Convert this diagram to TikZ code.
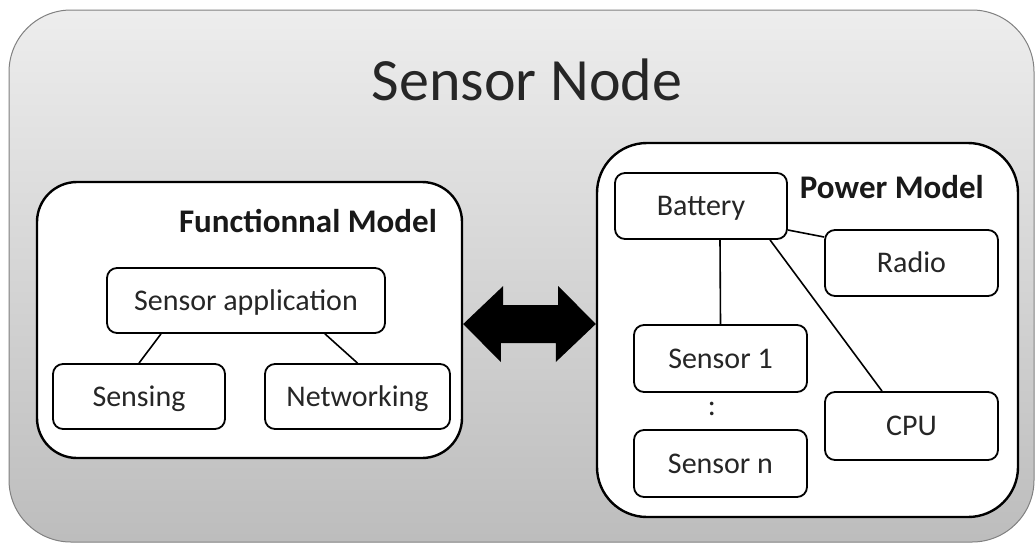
\documentclass[tikz,border=0pt]{standalone}
\usepackage{fontspec}
\setmainfont{Carlito}
\usetikzlibrary{calc}
\definecolor{txt}{HTML}{262626}
\begin{document}
\begin{tikzpicture}[x=1pt,y=-1pt,
  box/.style={draw=black, line width=1.8pt, fill=white, rounded corners=10pt,
    inner sep=0pt, text height=19.3pt, text depth=0pt, text=txt,
    font=\fontsize{30}{36}\selectfont},
  bigbox/.style={draw=black, line width=2.4pt, fill=white, inner sep=0pt},
  link/.style={draw=black, line width=1.6pt},
  heading/.style={inner sep=0pt, text=black!90, font=\bfseries\fontsize{33}{40}\selectfont}
]
\useasboundingbox (0,0) rectangle (1035,544);
% outer container
\draw[draw=black!50, line width=1pt, top color=black!7, bottom color=black!26,
  rounded corners=62pt] (9,10) rectangle (1034,542);
\node[anchor=base, inner sep=0pt, text=txt, font=\fontsize{60}{72}\selectfont] (title) at (527,100) {Sensor Node};

% functional model
\node[bigbox, rounded corners=40pt, minimum width=425pt, minimum height=276pt] (func) at (249.5,320) {};
\node[heading, anchor=base east] (ftitle) at (437,232) {Functionnal Model};
\node[box, minimum width=278pt, minimum height=65pt] (sapp) at (246,300.5) {Sensor application};
\node[box, minimum width=172pt, minimum height=65pt] (sensing) at (139,396.5) {Sensing};
\node[box, minimum width=185pt, minimum height=65pt] (netw) at (357.5,396.5) {Networking};
\draw[link] ([xshift=-85pt]sapp.south) -- (sensing.north);
\draw[link] ([xshift=79pt]sapp.south) -- (netw.north);

% power model
\node[bigbox, rounded corners=50pt, minimum width=421pt, minimum height=374pt] (power) at (807.5,330) {};
\node[heading, anchor=base east] (ptitle) at (984,198) {Power Model};
\node[box, minimum width=172pt, minimum height=66pt] (battery) at (701,206) {Battery};
\node[box, minimum width=173pt, minimum height=66pt] (radio) at (911.5,263) {Radio};
\node[box, minimum width=173pt, minimum height=67pt] (sensor1) at (720.5,358.5) {Sensor 1};
\node[box, minimum width=173pt, minimum height=67pt] (sensorn) at (720.5,463.5) {Sensor n};
\node[box, minimum width=173pt, minimum height=68pt] (cpu) at (911.5,426) {CPU};
\node[anchor=base, inner sep=0pt, text=txt, font=\fontsize{30}{36}\selectfont] (dots) at (712,415) {:};
\draw[link] ([xshift=19pt]battery.south) -- (sensor1.north);
\draw[link] ([yshift=-24pt]battery.east) -- ([yshift=26pt]radio.west);
\draw[link] ([xshift=69pt]battery.south) -- ([xshift=-29.5pt]cpu.north);

% double arrow between the two models
\coordinate (aL) at (func.east |- 0,324);
\coordinate (aR) at (power.west |- 0,324);
\fill[black] (aL) -- ++(40,-38) -- ++(0,19) -- ++(55,0) -- ++(0,-19) -- (aR)
  -- ++(-40,38) -- ++(0,-19) -- ++(-55,0) -- ++(0,19) -- cycle;
\end{tikzpicture}
\end{document}
